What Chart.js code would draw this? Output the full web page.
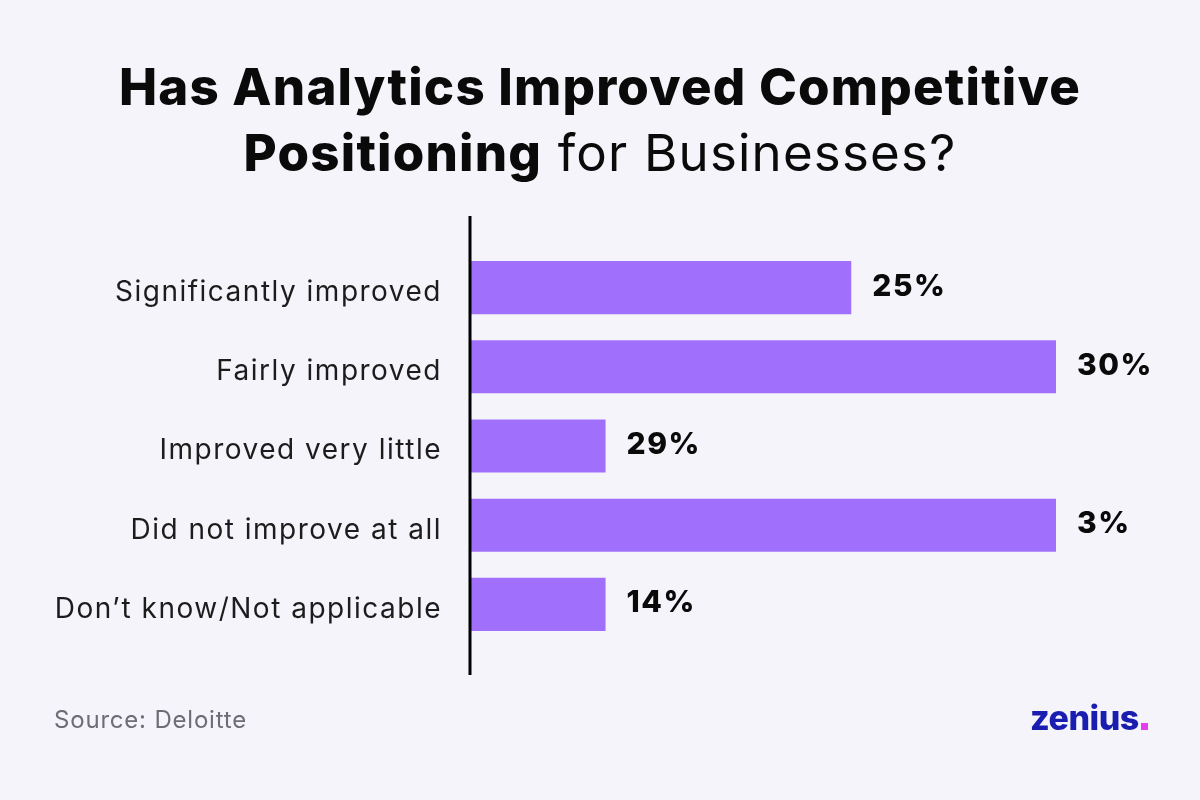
<html>
<head>
    <title>Analytics Competitive Positioning</title>
    <meta name="viewport" content="width=device-width, initial-scale=1.0">
    <script src="https://cdn.jsdelivr.net/npm/chart.js"></script>
    <style>
        body {
            background-color: #f5f4fa;
            margin: 0;
            padding: 0;
            font-family: Inter, Arial, sans-serif;
        }
        .page {
            position: relative;
            width: 1200px;
            height: 800px;
            overflow: hidden;
        }
        .title {
            position: absolute;
            top: 54px;
            left: 0;
            width: 1200px;
            text-align: center;
            font-size: 51px;
            line-height: 66px;
            color: #0a0a0a;
            letter-spacing: 1.2px;
        }
        .title b {
            font-weight: 800;
        }
        .title span {
            font-weight: 400;
        }
        .chart-box {
            position: absolute;
            top: 0;
            left: 0;
            width: 1200px;
            height: 800px;
        }
        .source {
            position: absolute;
            left: 54px;
            top: 705px;
            font-size: 24px;
            letter-spacing: 0.8px;
            color: #6e6d75;
        }
        .logo {
            position: absolute;
            left: 1030px;
            top: 697px;
            font-size: 34px;
            font-weight: 800;
            color: #1a1eb0;
            letter-spacing: -0.5px;
        }
        .logo i {
            display: inline-block;
            width: 7px;
            height: 7px;
            background: #e53ef0;
            margin-left: 2px;
        }
    </style>
</head>
<body>
    <div class="page">
        <div class="title">
            <b>Has Analytics Improved Competitive</b><br>
            <b>Positioning</b> <span>for Businesses?</span>
        </div>
        <div class="chart-box">
            <canvas id="chart" width="1200" height="800"></canvas>
        </div>
        <div class="source">Source: Deloitte</div>
        <div class="logo">zenius<i></i></div>
    </div>
    <script>
        const categories = ['Significantly improved', 'Fairly improved', 'Improved very little', 'Did not improve at all', 'Don\u2019t know/Not applicable'];
        // drawn bar lengths (relative, longest = 100) and the labels printed beside them
        const barLengths = [65, 100, 23, 100, 23];
        const valueLabels = ['25%', '30%', '29%', '3%', '14%'];

        // value labels next to bars + long axis line
        const extras = {
            id: 'extras',
            beforeDraw(chart) {
                // the original lettering is wider than Inter
                chart.ctx.letterSpacing = '1.5px';
            },
            afterDatasetsDraw(chart) {
                const ctx = chart.ctx;
                const meta = chart.getDatasetMeta(0);
                ctx.save();
                ctx.fillStyle = '#0a0a0a';
                ctx.font = '800 30px Inter, Arial, sans-serif';
                ctx.textBaseline = 'middle';
                meta.data.forEach((bar, i) => {
                    ctx.fillText(valueLabels[i], bar.x + 21, bar.y - 1);
                });
                const x = chart.chartArea.left - 1;
                ctx.strokeStyle = '#000000';
                ctx.lineWidth = 3;
                ctx.beginPath();
                ctx.moveTo(x, 216);
                ctx.lineTo(x, 675);
                ctx.stroke();
                ctx.restore();
            }
        };

        new Chart(document.getElementById('chart'), {
            type: 'bar',
            data: {
                labels: categories,
                datasets: [{
                    data: barLengths,
                    backgroundColor: '#a070fd',
                    borderWidth: 0,
                    categoryPercentage: 1,
                    barPercentage: 0.67
                }]
            },
            options: {
                indexAxis: 'y',
                responsive: false,
                animation: false,
                layout: {
                    padding: { top: 248, bottom: 156, left: 0, right: 144 }
                },
                scales: {
                    x: {
                        display: false,
                        min: 0,
                        max: 100
                    },
                    y: {
                        afterFit(scale) { scale.width = 471; },
                        grid: { display: false, drawTicks: false },
                        border: { display: false },
                        ticks: {
                            color: '#1c1c1c',
                            padding: 29,
                            labelOffset: 5,
                            font: { family: 'Inter, Arial, sans-serif', size: 28 }
                        }
                    }
                },
                plugins: {
                    legend: { display: false },
                    tooltip: { enabled: false }
                }
            },
            plugins: [extras]
        });
    </script>
</body>
</html>
